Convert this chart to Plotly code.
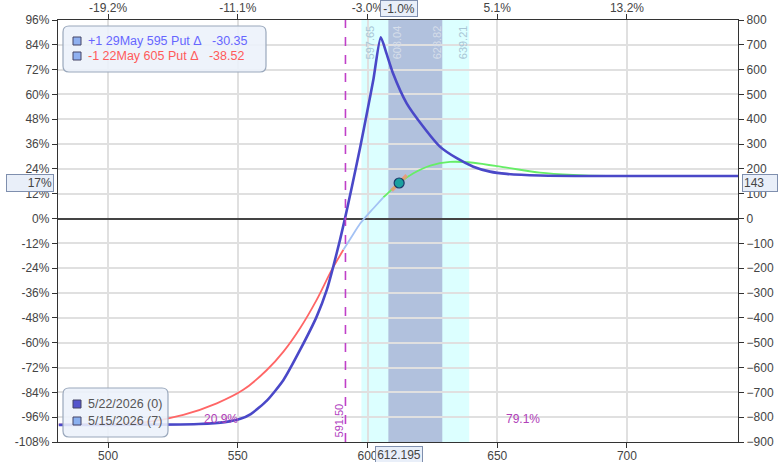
import plotly.graph_objects as go

# ---------------- data ----------------
# Expiration curve 5/22/2026 (0 days) : price, P&L %
exp_x = [481, 500, 520, 535, 545, 551, 555, 561.2, 567.6, 574, 580.4, 584.3, 586.8, 589.4,
         591.3, 594, 597.1, 600, 602.3, 605.1, 607.4, 609.9, 615.1, 621.5, 627.9, 634.4,
         640.8, 647.2, 653.7, 666.5, 680, 700, 743]
exp_y = [-99.7, -99.7, -99.6, -99.3, -98.4, -96.8, -94.5, -88, -78, -63.5, -47.4, -34.5, -23.2, -10.3,
         0, 15.5, 34, 52.5, 67.5, 87.6, 79.5, 70, 55.7, 44.4, 34.8, 29.2,
         25.1, 22.7, 21.6, 20.8, 20.6, 20.6, 20.6]

# T+7 curve 5/15/2026 (7 days) : price, P&L %
t7_x = [481, 500, 516.2, 529, 541.9, 552.1, 561.2, 567.6, 574, 580.4, 586.2, 590.7,
        594, 597.1, 598.4, 602.3, 606.1, 608.7, 612.2, 617.7, 624.2, 631.8, 640.8,
        653.7, 666.5, 679.3, 692.2, 710, 743]
t7_y = [-99.6, -99.3, -98.1, -94.9, -89.3, -82.8, -73.2, -64.3, -53, -39.3, -24.8, -15.1,
        -8.5, -2.5, -0.5, 5, 10.3, 13.3, 17.2, 21.9, 25.6, 27.4, 27,
        24.6, 22.2, 21.1, 20.6, 20.6, 20.6]
t7_breaks = [590.7, 606.1]           # colour changes of the T+7 line
t7_colors = ["#ff6666", "#a4c2f4", "#66ee66"]

# current price point and delta tangent
spot = 612.195
spot_pct = 17.2
spot_usd = 143
tangent_x = [609.3, 615.1]
tangent_y = [13.6, 20.9]

# bands and markers
sd1 = [608.04, 628.82]
sd2 = [597.65, 639.21]
breakeven = 591.50
prob_left, prob_right = "20.9%", "79.1%"

x_ticks = [500, 550, 600, 650, 700]
top_labels = ["-19.2%", "-11.1%", "-3.0%", "5.1%", "13.2%"]
spot_top_label = "-1.0%"
y_ticks = list(range(-108, 97, 12))
y2_ticks = list(range(-900, 801, 100))

legend_pos = ["+1 29May 595 Put Δ\u00a0\u00a0 -30.35", "-1 22May 605 Put Δ\u00a0\u00a0 -38.52"]
legend_pos_colors = ["#6666ff", "#ff5a5a"]
legend_dates = ["5/22/2026 (0)", "5/15/2026 (7)"]
legend_date_colors = ["#5555cc", "#8ab0f0"]

# ---------------- figure ----------------
FONT = "Liberation Sans, Arial, sans-serif"
W, H = 780, 462
PL, PR, PT, PB = 58, 738, 20, 442   # plot area in pixels
PW, PH = PR - PL, PB - PT
L, T = PL, PT
R, B = W - L - PW, H - T - PH


def px(xp):
    return (xp - PL) / PW


def py(yp):
    return (PB - yp) / PH


fig = go.Figure()

# T+7 segments
bounds = [-1e9] + t7_breaks + [1e9]
for i, col in enumerate(t7_colors):
    lo, hi = bounds[i], bounds[i + 1]
    xs = [x for x in t7_x if lo <= x <= hi]
    ys = [y for x, y in zip(t7_x, t7_y) if lo <= x <= hi]
    fig.add_trace(go.Scatter(x=xs, y=ys, mode="lines", line=dict(color=col, width=1.8, shape="spline", smoothing=0.8),
                             hoverinfo="skip", showlegend=False))

# expiration curve
fig.add_trace(go.Scatter(x=exp_x, y=exp_y, mode="lines",
                         line=dict(color="#4a48c8", width=2.6, shape="spline", smoothing=0.6),
                         hoverinfo="skip", showlegend=False))

# tangent + spot marker
fig.add_trace(go.Scatter(x=tangent_x, y=tangent_y, mode="lines",
                         line=dict(color="rgba(240,150,110,0.85)", width=3.5),
                         hoverinfo="skip", showlegend=False))
fig.add_trace(go.Scatter(x=[spot], y=[spot_pct], mode="markers",
                         marker=dict(size=10, color="#1aa0a0", line=dict(color="#1c3a6a", width=1.2)),
                         hoverinfo="skip", showlegend=False))

# invisible trace for secondary axes
fig.add_trace(go.Scatter(x=[600], y=[0], xaxis="x2", yaxis="y2", mode="markers",
                         marker=dict(opacity=0), hoverinfo="skip", showlegend=False))

shapes = []
# bands
shapes.append(dict(type="rect", xref="x", yref="paper", x0=sd2[0], x1=sd2[1], y0=0, y1=1,
                   fillcolor="#dcffff", line=dict(width=0), layer="below"))
shapes.append(dict(type="rect", xref="x", yref="paper", x0=sd1[0], x1=sd1[1], y0=0, y1=1,
                   fillcolor="#b1c1dd", line=dict(width=0), layer="below"))
# breakeven dashed line
shapes.append(dict(type="line", xref="x", yref="paper", x0=breakeven, x1=breakeven, y0=0, y1=1,
                   line=dict(color="#c040c8", width=1.6, dash="dash")))


def rounded_box(x0p, y0p, x1p, y1p, r=6):
    x0, x1 = px(x0p), px(x1p)
    y0, y1 = py(y1p), py(y0p)  # paper y (bottom, top)
    rx, ry = r / PW, r / PH
    path = (f"M {x0+rx},{y0} L {x1-rx},{y0} Q {x1},{y0} {x1},{y0+ry} "
            f"L {x1},{y1-ry} Q {x1},{y1} {x1-rx},{y1} L {x0+rx},{y1} Q {x0},{y1} {x0},{y1-ry} "
            f"L {x0},{y0+ry} Q {x0},{y0} {x0+rx},{y0} Z")
    return dict(type="path", xref="paper", yref="paper", path=path,
                fillcolor="rgba(236,241,250,0.88)", line=dict(color="#9aa8bc", width=1.2), layer="above")


shapes.append(rounded_box(63, 26, 266, 72))
shapes.append(rounded_box(63, 388, 168, 437))


def square(xp, yp, col):
    return dict(type="rect", xref="paper", yref="paper", x0=px(xp), x1=px(xp + 8),
                y0=py(yp + 4), y1=py(yp - 4), fillcolor=col, line=dict(color="#444466", width=1), layer="above")


shapes.append(square(73, 41, "#8fb0f0"))
shapes.append(square(73, 56, "#8fb0f0"))
shapes.append(square(73, 404, legend_date_colors[0]))
shapes.append(square(73, 421, legend_date_colors[1]))

ann = []
# band labels
band_labels = [(sd2[0], 9, "#a8c6d6"), (sd1[0], 9, "#d6deea"), (sd1[1], -5, "#d6deea"), (sd2[1], -6, "#a8c6d6")]
for xv, sh, col in band_labels:
    ann.append(dict(x=xv, xref="x", y=1, yref="paper", text=f"{xv:.2f}", textangle=-90, showarrow=False,
                    xanchor="center", yanchor="top", xshift=sh, yshift=-3, font=dict(family=FONT, size=11, color=col)))
ann.append(dict(x=breakeven, xref="x", y=0, yref="paper", text=f"{breakeven:.2f}", textangle=-90, showarrow=False,
                xanchor="center", yanchor="bottom", xshift=-6, yshift=3, font=dict(family=FONT, size=11, color="#b040c0")))
# probabilities
ann.append(dict(x=px(202), xref="paper", y=py(428), yref="paper", text=prob_left, showarrow=False,
                font=dict(family=FONT, size=12, color="#b040b8")))
ann.append(dict(x=px(542), xref="paper", y=py(428), yref="paper", text=prob_right, showarrow=False,
                font=dict(family=FONT, size=12, color="#b040b8")))
# legend texts
for i, (t, c) in enumerate(zip(legend_pos, legend_pos_colors)):
    ann.append(dict(x=px(86), xref="paper", y=py(41 + 15 * i), yref="paper", text=t, showarrow=False,
                    xanchor="left", yanchor="middle", font=dict(family=FONT, size=12.5, color=c)))
for i, t in enumerate(legend_dates):
    ann.append(dict(x=px(86), xref="paper", y=py(404 + 17 * i), yref="paper", text=t, showarrow=False,
                    xanchor="left", yanchor="middle", font=dict(family=FONT, size=12.5, color="#555555")))
# value boxes
box_style = dict(showarrow=False, bordercolor="#7f8fae", borderwidth=1, bgcolor="#e9eff9", borderpad=1,
                 font=dict(family=FONT, size=12, color="#444444"))
ann.append(dict(x=px(54), xref="paper", y=spot_pct, yref="y", text=f"{spot_pct:.0f}%", xanchor="right",
                width=44, height=14, align="right", **box_style))
ann.append(dict(x=px(742), xref="paper", y=spot_pct, yref="y", text=f"{spot_usd}", xanchor="left",
                width=32, height=14, align="left", **box_style))
ann.append(dict(x=spot, xref="x", y=1, yref="paper", text=spot_top_label, yanchor="bottom", yshift=3,
                width=34, height=13, **box_style))
ann.append(dict(x=spot, xref="x", y=0, yref="paper", text=f"{spot:.3f}", yanchor="top", yshift=-4,
                width=44, height=13, **box_style))

axis_common = dict(showline=True, linecolor="#333333", linewidth=1.3, ticks="outside", ticklen=5,
                   tickcolor="#333333", tickfont=dict(family=FONT, size=12, color="#444444"),
                   automargin=False)

fig.update_layout(
    width=W, height=H, margin=dict(l=L, r=R, t=T, b=B, autoexpand=False),
    paper_bgcolor="white", plot_bgcolor="white", showlegend=False,
    shapes=shapes, annotations=ann,
    xaxis=dict(range=[480.7, 742.8], tickvals=x_ticks, showgrid=True, gridcolor="#e0e0e0", gridwidth=1.5,
               zeroline=False, ticklabelstandoff=-3, **axis_common),
    xaxis2=dict(range=[480.7, 742.8], overlaying="x", side="top", tickvals=x_ticks, ticktext=top_labels,
                showgrid=False, zeroline=False, ticklabelstandoff=-3, **axis_common),
    yaxis=dict(range=[-108, 96], tickvals=y_ticks, ticktext=[f"{v}%" for v in y_ticks], showgrid=True,
               gridcolor="#e0e0e0", gridwidth=1.5, zeroline=True, zerolinecolor="#444444", zerolinewidth=1.5,
               **axis_common),
    yaxis2=dict(range=[-900, 800], overlaying="y", side="right", tickvals=y2_ticks, showgrid=False,
                zeroline=False, **axis_common),
)

fig.write_html("out.html", config={"displayModeBar": False},
               post_script="document.body.style.margin='0px';document.body.style.overflow='hidden';")
